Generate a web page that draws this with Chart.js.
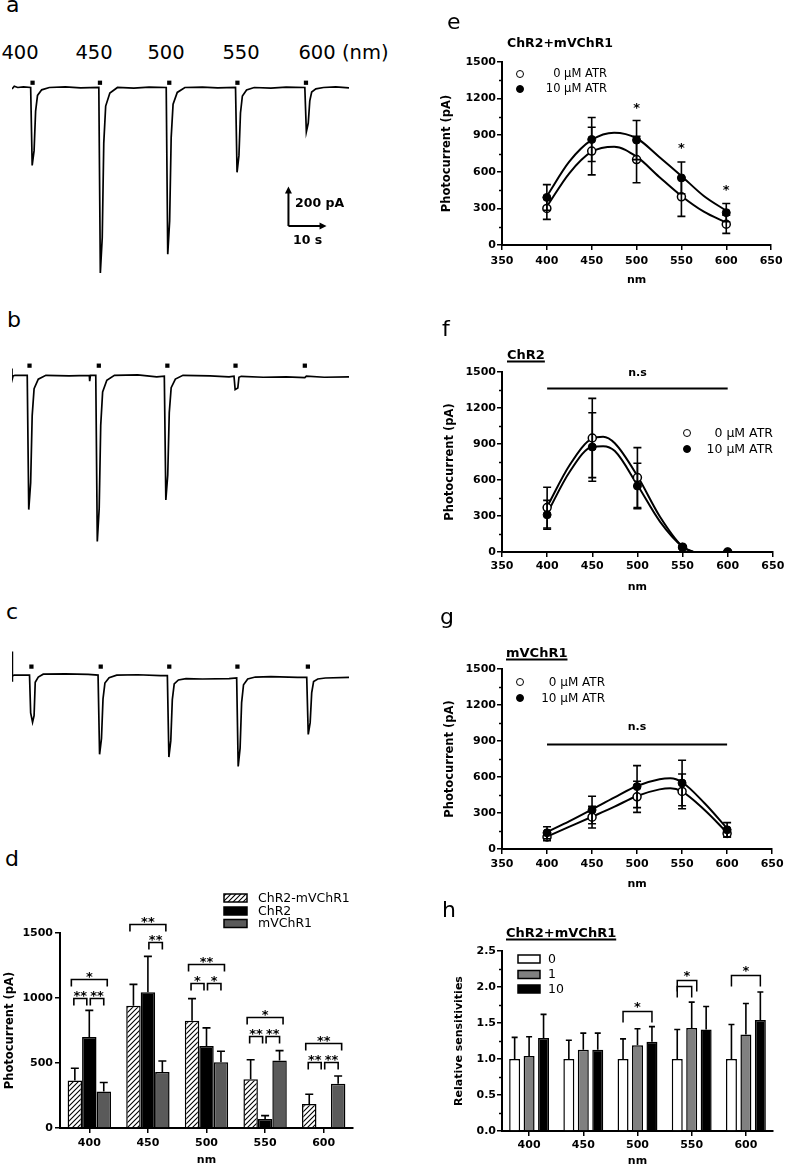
<!DOCTYPE html>
<html><head><meta charset="utf-8">
<script src="https://cdn.jsdelivr.net/npm/chart.js@4.4.1/dist/chart.umd.min.js"></script>
<style>
html,body{margin:0;padding:0;background:#fff}
body{width:787px;height:1168px;position:relative;overflow:hidden;font-family:'DejaVu Sans',sans-serif;color:#000}
canvas{position:absolute}
.t{position:absolute;line-height:1;white-space:nowrap}
.m{position:absolute;box-sizing:border-box;border:1.5px solid #000;border-radius:50%}
</style></head><body>
<canvas id="ta" width="345" height="215" style="left:8px;top:70px"></canvas>
<canvas id="tb" width="345" height="195" style="left:8px;top:355px"></canvas>
<canvas id="tc" width="345" height="140" style="left:8px;top:640px"></canvas>
<canvas id="cd" width="360" height="288" style="left:0px;top:880px"></canvas>
<canvas id="ce" width="387" height="262" style="left:400px;top:30px"></canvas>
<canvas id="cf" width="387" height="280" style="left:400px;top:320px"></canvas>
<canvas id="cg" width="387" height="295" style="left:400px;top:605px"></canvas>
<canvas id="ch" width="387" height="248" style="left:400px;top:920px"></canvas>
<script>
// ---------------- DATA ----------------
const wavelengths = ['400','450','500','550','600'];
const nm = [400,450,500,550,600];

// Panels a-c: current traces, [time (s), current (pA)]
const traceA = [[0,-8],[0.6,6],[1.5,0],[3,3],[4.9,0],[5.3,-395],[5.8,-320],[6.2,-120],[6.7,-40],[7.8,-12],[9.8,0],[14,3],[18,-2],[22.8,0],[23.2,-940],[23.7,-760],[24.1,-282],[24.6,-94],[25.7,-28],[27.7,0],[32,-3],[36,2],[40.5,0],[40.9,-845],[41.4,-676],[41.8,-254],[42.3,-85],[43.4,-25],[45.4,0],[50,2],[54,-2],[58.7,0],[59.1,-430],[59.6,-344],[60.0,-129],[60.5,-43],[61.6,-13],[63.6,0],[68,-3],[72,2],[76.9,0],[77.3,-225],[77.8,-180],[78.2,-68],[78.7,-23],[79.8,-7],[81.8,0],[85,3],[88.5,-2]];
const traceB = [[0,34],[0,-25],[0.3,-3],[0.8,0],[4.0,0],[4.4,-683],[4.9,-546],[5.3,-205],[5.8,-68],[6.9,-20],[8.9,0],[15,-3],[20.3,0],[20.4,-30],[20.6,0],[22.0,0],[22.4,-845],[22.9,-676],[23.3,-254],[23.8,-85],[24.9,-25],[26.9,0],[33,2],[38,-8],[40.0,-4],[40.4,-634],[40.9,-507],[41.3,-190],[41.8,-63],[42.9,-19],[44.9,0],[52,-3],[57,-8],[58.3,-5],[58.6,-73],[59.3,-65],[59.6,-10],[60.2,-5],[66,-10],[72,-8],[76.9,-12],[77.3,-4],[82,-10],[88.5,-8]];
const traceC = [[0,122],[0,-34],[0.2,-5],[0.6,0],[4.6,0],[4.9,-195],[5.4,-244],[5.8,-210],[6.1,-37],[6.9,-10],[8.2,5],[14,6],[20,4],[22.6,0],[23.0,-410],[23.5,-328],[23.9,-123],[24.4,-41],[25.5,-14],[27.5,0],[33,2],[39,-3],[40.8,-3],[41.2,-424],[41.7,-339],[42.1,-127],[42.6,-45],[43.7,-25],[45.7,-18],[50,-20],[57,-18],[59.0,-15],[59.4,-473],[59.9,-378],[60.3,-142],[60.8,-50],[61.9,-20],[63.9,-10],[68,-8],[75,-12],[77.4,-12],[77.8,-307],[78.3,-246],[78.7,-92],[79.2,-33],[80.3,-20],[82.3,-15],[88.5,-12]];
const stimA = [5.4,23.1,41.3,59.2,77.2];
const stimB = [4.6,22.8,40.8,58.7,76.9];
const stimC = [5.1,23.3,41.3,59.2,77.7];
const stimLevelA = 24, stimLevelB = 49, stimLevelC = 44;
const scaleBarPA = 200, scaleBarSec = 10;
const scaleBarOrigin = [72.6, -702];

// Panel d
const dHybrid = [365, 940, 825, 375, 185];
const dHybridErr = [95, 165, 170, 150, 75];
const dChR2 = [700, 1045, 630, 70, 0];
const dChR2Err = [205, 275, 140, 25, 0];
const dmVChR1 = [280, 430, 505, 520, 340];
const dmVChR1Err = [70, 85, 85, 75, 60];
// [group, fromSeries, toSeries, level pA, label]
const dBrackets = [
 [0,0,2,1150,'*'],[0,0,1,1000,'**'],[0,1,2,1000,'**'],
 [1,0,2,1570,'**'],[1,1,2,1430,'**'],
 [2,0,2,1260,'**'],[2,0,1,1115,'*'],[2,1,2,1115,'*'],
 [3,0,2,855,'*'],[3,0,1,710,'**'],[3,1,2,710,'**'],
 [4,0,2,655,'**'],[4,0,1,510,'**'],[4,1,2,510,'**']
];

// Panel e (ChR2+mVChR1)
const e0 = [300,770,700,395,170];
const e0Err = [90,195,190,160,75];
const e10 = [390,865,860,550,265];
const e10Err = [105,180,160,130,75];
const eFitX = [400,425,450,475,500,525,550,575,600];
const eFit0 = [315,588,765,806,724,560,402,273,183];
const eFit10 = [400,683,861,921,875,724,566,402,281];
const eStars = [[500,1148],[550,820],[600,476]];

// Panel f (ChR2)
const f0 = [370,950,620,40,0];
const f0Err = [170,330,250,10,0];
const f10 = [310,875,550,40,0];
const f10Err = [120,285,190,10,0];
const fFitX = [400,425,450,462,475,500,525,550,562];
const fFit0 = [378,725,947,961,906,633,294,44,0];
const fFit10 = [322,669,877,882,841,558,253,44,0];
const fNs = [400,600,1365,1490];

// Panel g (mVChR1)
const g0 = [100,265,435,480,130];
const g0Err = [30,90,130,145,30];
const g10 = [135,325,520,550,160];
const g10Err = [50,115,175,190,60];
const gFitX = [400,425,450,475,500,525,537,550,575,600];
const gFit0 = [103,186,269,353,442,497,506,478,325,136];
const gFit10 = [141,233,331,431,525,581,589,556,381,172];
const gNs = [400,600,875,1016];

// Panel h
const h0 = [1.00,1.00,1.00,1.00,1.00];
const h0Err = [0.30,0.26,0.28,0.41,0.48];
const h1 = [1.04,1.13,1.19,1.43,1.34];
const h1Err = [0.27,0.23,0.23,0.36,0.43];
const h10 = [1.29,1.13,1.24,1.41,1.54];
const h10Err = [0.33,0.23,0.21,0.32,0.39];
const hBrackets = [[2,0,2,1.667,'*'],[3,0,1.35,2.097,'*'],[3,0,1,2.02,''],[4,0,2,2.17,'*']];

// ---------------- HELPERS ----------------
const FONT = "'DejaVu Sans'";
const TICK = 11;
const bf = (s)=>({family:FONT,size:s,weight:'bold'});
function txt(s,x,y,o={}){
  const d=document.createElement('div');d.className='t';d.textContent=s;
  d.style.fontSize=(o.size||12)+'px';if(o.bold)d.style.fontWeight='bold';
  if(o.u){d.style.textDecoration='underline';d.style.textUnderlineOffset='2px';d.style.textDecorationThickness='1.5px';}
  const ax=o.align==='center'?'-50%':o.align==='right'?'-100%':'0';
  d.style.left=x+'px';d.style.top=y+'px';d.style.transform='translate('+ax+',-50%)';
  document.body.appendChild(d);
}
function mark(x,y,filled){const d=document.createElement('div');d.className='m';d.style.width='8px';d.style.height='8px';d.style.left=(x-4)+'px';d.style.top=(y-4)+'px';d.style.background=filled?'#000':'#fff';document.body.appendChild(d);}

const base = {responsive:false,animation:false,events:[],plugins:{legend:{display:false},tooltip:{enabled:false}}};

function traceChart(id,pts,stim,stimY,ymin,ymax,extra){
  new Chart(document.getElementById(id),{
    type:'line',
    data:{datasets:[
      {data:stim.map(t=>({x:t,y:stimY})),showLine:false,pointStyle:'rect',pointRadius:3,pointBackgroundColor:'#000',pointBorderWidth:0},
      {data:pts.map(p=>({x:p[0],y:p[1]})),borderColor:'#000',borderWidth:1.7,pointRadius:0,tension:0}
    ]},
    options:Object.assign({},base,{layout:{padding:0},scales:{x:{type:'linear',display:false,min:0,max:88.5},y:{display:false,min:ymin,max:ymax}}}),
    plugins:extra?[extra]:[]
  });
}

const scaleBarPlugin={id:'sb',afterDraw(c){
  const x=c.scales.x,y=c.scales.y,ctx=c.ctx;
  const x0=x.getPixelForValue(scaleBarOrigin[0]),y0=y.getPixelForValue(scaleBarOrigin[1]);
  const y1=y.getPixelForValue(scaleBarOrigin[1]+scaleBarPA),x1=x.getPixelForValue(scaleBarOrigin[0]+scaleBarSec);
  ctx.save();ctx.strokeStyle='#000';ctx.fillStyle='#000';ctx.lineWidth=2;
  ctx.beginPath();ctx.moveTo(x0,y0);ctx.lineTo(x0,y1+5);ctx.moveTo(x0,y0);ctx.lineTo(x1-5,y0);ctx.stroke();
  ctx.beginPath();ctx.moveTo(x0,y1);ctx.lineTo(x0-3.5,y1+7);ctx.lineTo(x0+3.5,y1+7);ctx.closePath();ctx.fill();
  ctx.beginPath();ctx.moveTo(x1,y0);ctx.lineTo(x1-7,y0-3.5);ctx.lineTo(x1-7,y0+3.5);ctx.closePath();ctx.fill();
  ctx.restore();
}};

function errPlugin(cap){return {id:'err',afterDatasetsDraw(c){
  const ys=c.scales.y,ctx=c.ctx;
  c.data.datasets.forEach((ds,i)=>{
    if(!ds.errs)return;const meta=c.getDatasetMeta(i);
    ctx.save();ctx.strokeStyle='#000';ctx.lineWidth=1.6;
    meta.data.forEach((el,j)=>{
      const e=ds.errs[j];if(!e)return;
      const v=typeof ds.data[j]==='object'?ds.data[j].y:ds.data[j];
      const yt=ys.getPixelForValue(v+e);
      const yb=ds.two?ys.getPixelForValue(v-e):el.y;
      const x=el.x;
      ctx.beginPath();ctx.moveTo(x,yb);ctx.lineTo(x,yt);ctx.moveTo(x-cap,yt);ctx.lineTo(x+cap,yt);
      if(ds.two){ctx.moveTo(x-cap,yb);ctx.lineTo(x+cap,yb);}
      ctx.stroke();
    });
    ctx.restore();
  });
}};}

function minorPlugin(vals,len){return {id:'minor',afterDraw(c){
  const ys=c.scales.y,ctx=c.ctx,x=c.chartArea.left;
  ctx.save();ctx.strokeStyle='#000';ctx.lineWidth=1.5;
  vals.forEach(v=>{const y=Math.round(ys.getPixelForValue(v))+0.5;ctx.beginPath();ctx.moveTo(x-len,y);ctx.lineTo(x,y);ctx.stroke();});
  ctx.restore();
}};}

function barCenter(c,s,g){
  const s0=Math.max(0,Math.min(1,Math.floor(s)));const f=s-s0;
  const a=c.getDatasetMeta(s0).data[g].x,b=c.getDatasetMeta(s0+1).data[g].x;
  return a+(b-a)*f;
}

function axisX(o){return Object.assign({
  grid:{display:true,drawOnChartArea:false,drawTicks:true,tickLength:5,color:'#000',lineWidth:1.5},
  border:{display:true,color:'#000',width:2}},o);}

// ---------------- PANELS a-c ----------------
traceChart('ta',traceA,stimA,stimLevelA,-980.5,68.3,scaleBarPlugin);
traceChart('tb',traceB,stimB,stimLevelB,-868.3,82.9);
traceChart('tc',traceC,stimC,stimLevelC,-522,161);

// ---------------- PANEL d ----------------
const hatch=(()=>{const c=document.createElement('canvas');c.width=5;c.height=5;const x=c.getContext('2d');
  x.fillStyle='#fff';x.fillRect(0,0,5,5);x.strokeStyle='#000';x.lineWidth=1.1;x.beginPath();
  x.moveTo(0,5);x.lineTo(5,0);x.moveTo(-1,1);x.lineTo(1,-1);x.moveTo(4,6);x.lineTo(6,4);x.stroke();
  return document.getElementById('cd').getContext('2d').createPattern(c,'repeat');})();

const dDecor={id:'dd',afterDraw(c){
  const ctx=c.ctx,ys=c.scales.y;const oy=880,ox=0;
  ctx.save();ctx.strokeStyle='#000';ctx.fillStyle='#000';ctx.lineWidth=1.6;
  ctx.font='bold 13px '+FONT;ctx.textAlign='center';ctx.textBaseline='alphabetic';
  dBrackets.forEach(b=>{
    const [g,s1,s2,lv,lab]=b;let x1=barCenter(c,s1,g),x2=barCenter(c,s2,g);
    if(s2-s1===2){x1-=3.5;x2+=3.5;} else if(s1===0){x1-=1;x2-=2.5;} else {x1+=1;}
    const y=Math.round(ys.getPixelForValue(lv))+0.5;
    ctx.beginPath();ctx.moveTo(x1,y+7);ctx.lineTo(x1,y);ctx.lineTo(x2,y);ctx.lineTo(x2,y+7);ctx.stroke();
    if(lab)ctx.fillText(lab,(x1+x2)/2,y+1.5);
  });
  // legend
  const rows=[[894,hatch,'ChR2-mVChR1'],[907,'#000','ChR2'],[919.5,'#5a5a5a','mVChR1']];
  ctx.font='12.5px '+FONT;ctx.textAlign='left';ctx.textBaseline='middle';ctx.lineWidth=1.5;
  rows.forEach(r=>{ctx.fillStyle=r[1];ctx.fillRect(224-ox,r[0]-oy,23,8);ctx.strokeRect(224-ox,r[0]-oy,23,8);
    ctx.fillStyle='#000';ctx.fillText(r[2],258-ox,r[0]-oy+4.5);});
  ctx.restore();
}};

new Chart(document.getElementById('cd'),{
  type:'bar',
  data:{labels:wavelengths,datasets:[
    {label:'ChR2-mVChR1',data:dHybrid,errs:dHybridErr,backgroundColor:hatch,borderColor:'#000',borderWidth:1.5,categoryPercentage:0.74,barPercentage:1},
    {label:'ChR2',data:dChR2,errs:dChR2Err,backgroundColor:'#000',borderColor:'#000',borderWidth:1.5,categoryPercentage:0.74,barPercentage:1},
    {label:'mVChR1',data:dmVChR1,errs:dmVChR1Err,backgroundColor:'#5a5a5a',borderColor:'#000',borderWidth:1.5,categoryPercentage:0.74,barPercentage:1}
  ]},
  options:Object.assign({},base,{layout:{padding:{top:53,right:7,left:0,bottom:0}},
    scales:{
      x:axisX({grid:{display:true,offset:false,drawOnChartArea:false,tickLength:5,color:'#000',lineWidth:1.5},ticks:{color:'#000',font:bf(TICK),padding:3.4},
        title:{display:true,text:'nm',color:'#000',font:bf(11),padding:{top:0,bottom:1.4}},afterFit:s=>{s.height=40;}}),
      y:axisX({min:0,max:1500,ticks:{stepSize:500,color:'#000',font:bf(TICK),padding:2,callback:v=>String(v)},
        title:{display:true,text:'Photocurrent (pA)',color:'#000',font:bf(11.5),padding:{top:3.1,bottom:0}},afterFit:s=>{s.width=60;}})
    }}),
  plugins:[errPlugin(4),dDecor]
});

// ---------------- PANELS e-g ----------------
function lineChart(id,o){
  const deco={id:'deco',afterDraw(c){
    const ctx=c.ctx,xs=c.scales.x,ys=c.scales.y;
    ctx.save();ctx.fillStyle='#000';ctx.strokeStyle='#000';
    if(o.stars){ctx.font='bold 13px '+FONT;ctx.textAlign='center';ctx.textBaseline='alphabetic';
      o.stars.forEach(s=>ctx.fillText('*',xs.getPixelForValue(s[0]),ys.getPixelForValue(s[1])+7));}
    if(o.ns){const y=Math.round(ys.getPixelForValue(o.ns[2]))+0.5;ctx.lineWidth=2;ctx.beginPath();
      ctx.moveTo(xs.getPixelForValue(o.ns[0]),y);ctx.lineTo(xs.getPixelForValue(o.ns[1]),y);ctx.stroke();
      ctx.font='bold 11px '+FONT;ctx.textAlign='center';ctx.textBaseline='middle';
      ctx.fillText('n.s',xs.getPixelForValue((o.ns[0]+o.ns[1])/2),ys.getPixelForValue(o.ns[3]));}
    ctx.restore();
  }};
  new Chart(document.getElementById(id),{
    type:'line',
    data:{datasets:[
      {data:nm.map((x,i)=>({x,y:o.p10[i]})),errs:o.e10,two:true,showLine:false,pointRadius:4,pointBackgroundColor:'#000',pointBorderColor:'#000',pointBorderWidth:1},
      {data:nm.map((x,i)=>({x,y:o.p0[i]})),errs:o.e0,two:true,showLine:false,pointRadius:4,pointBackgroundColor:'#fff',pointBorderColor:'#000',pointBorderWidth:1.5},
      {data:o.fx.map((x,i)=>({x,y:o.f10[i]})),borderColor:'#000',borderWidth:2,pointRadius:0,cubicInterpolationMode:'monotone'},
      {data:o.fx.map((x,i)=>({x,y:o.f0[i]})),borderColor:'#000',borderWidth:2,pointRadius:0,cubicInterpolationMode:'monotone'}
    ]},
    options:Object.assign({},base,{layout:{padding:{top:o.top,right:o.right,left:0,bottom:0}},
      scales:{
        x:axisX({type:'linear',min:350,max:650,ticks:{stepSize:50,color:'#000',font:bf(TICK),padding:o.xtp,callback:v=>String(v)},
          title:{display:true,text:'nm',color:'#000',font:bf(11),padding:{top:0,bottom:o.xtitle}},afterFit:s=>{s.height=o.xh;}}),
        y:axisX({min:0,max:1500,ticks:{stepSize:300,color:'#000',font:bf(TICK),padding:1,callback:v=>String(v)},
          title:{display:true,text:'Photocurrent (pA)',color:'#000',font:bf(11.5),padding:{top:o.ytitle,bottom:0}},afterFit:s=>{s.width=102;}})
      }}),
    plugins:[errPlugin(4),minorPlugin([150,450,750,1050,1350],3),deco]
  });
}
lineChart('ce',{p0:e0,e0:e0Err,p10:e10,e10:e10Err,fx:eFitX,f0:eFit0,f10:eFit10,stars:eStars,top:32,right:10,xh:47,xtp:4.4,xtitle:5.4,ytitle:40.1});
lineChart('cf',{p0:f0,e0:f0Err,p10:f10,e10:f10Err,fx:fFitX,f0:fFit0,f10:fFit10,ns:fNs,top:52,right:14,xh:48,xtp:2.7,xtitle:6.4,ytitle:43.1});
lineChart('cg',{p0:g0,e0:g0Err,p10:g10,e10:g10Err,fx:gFitX,f0:gFit0,f10:gFit10,ns:gNs,top:64,right:14,xh:51,xtp:3.4,xtitle:9.4,ytitle:43.1});

// ---------------- PANEL h ----------------
const hDecor={id:'hd',afterDraw(c){
  const ctx=c.ctx,ys=c.scales.y;const oy=920,ox=400;
  ctx.save();ctx.strokeStyle='#000';ctx.fillStyle='#000';ctx.lineWidth=1.5;
  ctx.font='bold 13px '+FONT;ctx.textAlign='center';ctx.textBaseline='alphabetic';
  hBrackets.forEach(b=>{
    const [g,s1,s2,lv,lab]=b;const x1=barCenter(c,s1,g),x2=barCenter(c,s2,g);
    const y=Math.round(ys.getPixelForValue(lv))+0.5;
    ctx.beginPath();ctx.moveTo(x1,y+11);ctx.lineTo(x1,y);ctx.lineTo(x2,y);ctx.lineTo(x2,y+11);ctx.stroke();
    if(lab)ctx.fillText(lab,(x1+x2)/2,y-1);
  });
  const rows=[[955,'#fff','0'],[970.5,'#808080','1'],[985,'#000','10']];
  ctx.font='12.5px '+FONT;ctx.textAlign='left';ctx.textBaseline='middle';
  rows.forEach(r=>{ctx.fillStyle=r[1];ctx.fillRect(518-ox,r[0]-oy,22,8);ctx.strokeRect(518-ox,r[0]-oy,22,8);
    ctx.fillStyle='#000';ctx.fillText(r[2],548-ox,r[0]-oy+4.5);});
  ctx.restore();
}};
new Chart(document.getElementById('ch'),{
  type:'bar',
  data:{labels:wavelengths,datasets:[
    {label:'0',data:h0,errs:h0Err,backgroundColor:'#fff',borderColor:'#000',borderWidth:1.5,categoryPercentage:0.8,barPercentage:0.76},
    {label:'1',data:h1,errs:h1Err,backgroundColor:'#808080',borderColor:'#000',borderWidth:1.5,categoryPercentage:0.8,barPercentage:0.76},
    {label:'10',data:h10,errs:h10Err,backgroundColor:'#000',borderColor:'#000',borderWidth:1.5,categoryPercentage:0.8,barPercentage:0.76}
  ]},
  options:Object.assign({},base,{layout:{padding:{top:31,right:14,left:0,bottom:0}},
    scales:{
      x:axisX({grid:{display:true,offset:false,drawOnChartArea:false,tickLength:5,color:'#000',lineWidth:1.5},ticks:{color:'#000',font:bf(TICK),padding:2.4},
        title:{display:true,text:'nm',color:'#000',font:bf(11),padding:{top:0,bottom:0.4}},afterFit:s=>{s.height=37;}}),
      y:axisX({min:0,max:2.5,ticks:{stepSize:0.5,color:'#000',font:bf(TICK),padding:1,callback:v=>v.toFixed(1)},
        title:{display:true,text:'Relative sensitivities',color:'#000',font:bf(11),padding:{top:52.4,bottom:0}},afterFit:s=>{s.width=102;}})
    }}),
  plugins:[errPlugin(3),minorPlugin([0.25,0.75,1.25,1.75,2.25],3),hDecor]
});

// ---------------- TEXT ----------------
txt('a',6,4.8,{size:22});txt('b',7,320.4,{size:22});txt('c',6,612.4,{size:22});txt('d',5,859.4,{size:22});
txt('e',447,22.4,{size:22});txt('f',442,329.4,{size:22});txt('g',440,617.4,{size:22});txt('h',442,910.4,{size:22});
[['400',20],['450',94],['500',166],['550',241],['600',317]].forEach(p=>txt(p[0],p[1],52.5,{size:19.5,align:'center'}));
txt('(nm)',342,53,{size:19.5});
txt('200 pA',295,202.5,{size:12.5,bold:true});
txt('10 s',293,240,{size:12.5,bold:true});
txt('ChR2+mVChR1',507,43,{size:12.5,bold:true});
txt('ChR2',507,354,{size:13,bold:true,u:true});
txt('mVChR1',506,652,{size:13,bold:true,u:true});
txt('ChR2+mVChR1',506,932,{size:13,bold:true,u:true});
txt('0 μM ATR',607,74,{size:11.5,align:'right'});txt('10 μM ATR',607,89,{size:11.5,align:'right'});
mark(520,74,false);mark(520,89,true);
txt('0 μM ATR',773,433,{size:12.5,align:'right'});txt('10 μM ATR',773,449,{size:12.5,align:'right'});
mark(687,433,false);mark(687,449,true);
txt('0 μM ATR',605,682,{size:12,align:'right'});txt('10 μM ATR',605,698,{size:12,align:'right'});
mark(520,682,false);mark(520,698,true);
</script></body></html>
